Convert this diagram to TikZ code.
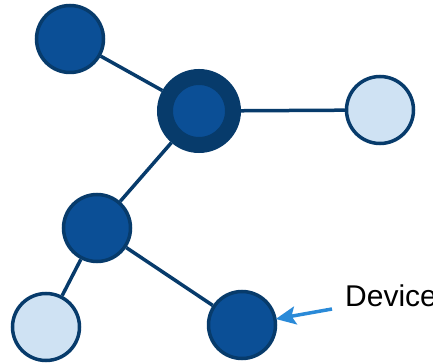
\documentclass[tikz,border=0pt]{standalone}
\usepackage{fontspec}
\setmainfont{Liberation Sans}
\usetikzlibrary{arrows.meta}
\definecolor{netdark}{HTML}{073B6B}
\definecolor{netfill}{HTML}{0B4F96}
\definecolor{netlight}{HTML}{CFE2F3}
\definecolor{netarrow}{HTML}{2A8AD8}
\tikzset{
	dev/.style={circle, draw=netdark, line width=3.5pt, fill=netfill, minimum size=67pt, inner sep=0pt},
	leaf/.style={dev, fill=netlight},
	hub/.style={circle, draw=netdark, line width=16pt, fill=netfill, minimum size=68pt, inner sep=0pt},
	link/.style={draw=netdark, line width=3.5pt}
}

\begin{document}
\begin{tikzpicture}[x=1pt, y=-1pt]
			%%%%% START %%%%%
			\useasboundingbox (0, 0) rectangle (433, 363);
			
			\node[dev] (topleft) at (70, 39) {};
			\node[hub] (center) at (199, 111) {};
			\node[leaf] (right) at (380, 110) {};
			\node[dev] (middle) at (97, 228) {};
			\node[leaf] (botleft) at (46, 327) {};
			\node[dev] (botright) at (242, 325) {};
			
			\draw[link] (topleft) -- (center);
			\draw[link] (center) -- (right);
			\draw[link] (center) -- (middle);
			\draw[link] (middle) -- (botleft);
			\draw[link] (middle) -- (botright);
			
			\node[anchor=base west, inner sep=0pt, font=\fontsize{30}{34}\selectfont] (label) at (345, 306) {Device};
			\coordinate (tail) at (332, 309);
			\draw[-{Stealth[length=20pt, width=18pt, inset=4pt]}, draw=netarrow, fill=netarrow, line width=3.5pt, shorten >=-1pt] (tail) -- (botright);
			
			%%%%% END %%%%%
\end{tikzpicture}
\end{document}
